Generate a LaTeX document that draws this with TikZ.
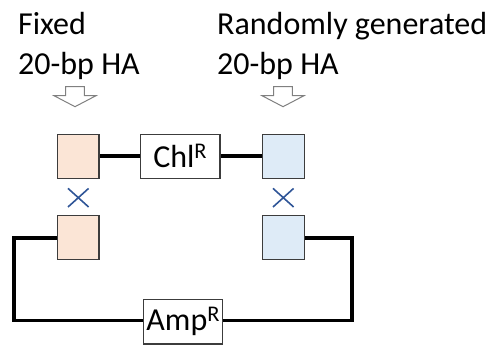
\documentclass[tikz,border=0pt]{standalone}
\usepackage{fontspec}
\setmainfont{Carlito}
\usetikzlibrary{shapes.misc,backgrounds}
\definecolor{fixfill}{HTML}{FBE5D6}
\definecolor{randfill}{HTML}{DEEBF7}
\definecolor{boxline}{HTML}{3C3C3C}
\definecolor{crossblue}{HTML}{2F5597}
\definecolor{arrowgray}{HTML}{808080}
\tikzset{
  lbl/.style={anchor=base west, inner sep=0pt, font=\fontsize{32}{38}\selectfont, text=black},
  habox/.style={rectangle, draw=boxline, line width=1.2pt, minimum width=41.7pt, minimum height=44pt, inner sep=0pt},
  genebox/.style={rectangle, draw=boxline, line width=1.2pt, fill=white, minimum height=44pt, inner sep=0pt, font=\fontsize{32}{38}\selectfont},
  xmark/.style={cross out, draw=crossblue, line width=1.6pt, minimum width=19pt, minimum height=17pt, inner sep=0pt},
  wire/.style={line width=3.8pt, black},
  hollowarrow/.pic={\draw[arrowgray, line width=1pt, fill=white, line join=miter]
     (-9.3,-10) -- (9.3,-10) -- (9.3,-1) -- (21,-1) -- (0,10) -- (-21,-1) -- (-9.3,-1) -- cycle;}
}
\begin{document}
\begin{tikzpicture}[x=1pt,y=-1pt]
\useasboundingbox (0,0) rectangle (492,347);
% labels
\node[lbl] (fixA) at (18,35) {Fixed};
\node[lbl] (fixB) at (18,75) {20-bp HA};
\node[lbl] (ranA) at (217,35) {Randomly generated};
\node[lbl] (ranB) at (217,75) {20-bp HA};
% hollow arrows
\pic at (75,96.7) {hollowarrow};
\pic at (283,96.7) {hollowarrow};
% boxes
\node[habox, fill=fixfill] (f1) at (78.2,156.3) {};
\node[habox, fill=randfill] (r1) at (283.3,156.3) {};
\node[habox, fill=fixfill] (f2) at (78.2,237.8) {};
\node[habox, fill=randfill] (r2) at (283.3,237.8) {};
\node[genebox, minimum width=79.7pt] (chl) at (180.2,156.3) {Chl\textsuperscript{R}};
\node[genebox, minimum width=79pt, minimum height=44.7pt] (amp) at (183.2,321.7) {Amp\textsuperscript{R}};
% crosses
\node[xmark] (x1) at (78.3,197.7) {};
\node[xmark] (x2) at (283.3,197.7) {};
% wires
\coordinate (cl) at (14,320.5);
\coordinate (cr) at (352.3,320.5);
\begin{scope}[on background layer]
\draw[wire] (f1.east) -- (chl.west);
\draw[wire] (chl.east) -- (r1.west);
\draw[wire] (f2.west) -| (cl) -- (cl -| amp.west);
\draw[wire] (r2.east) -| (cr) -- (cr -| amp.east);
\end{scope}
\end{tikzpicture}
\end{document}
